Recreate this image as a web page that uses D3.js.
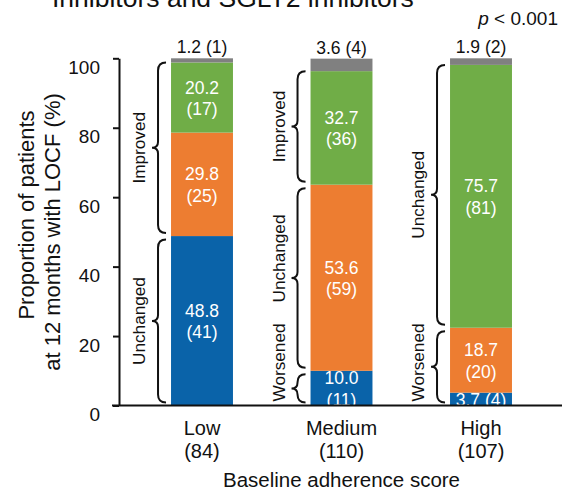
<!DOCTYPE html>
<html>
<head>
<meta charset="utf-8">
<script src="https://cdn.jsdelivr.net/npm/d3@7"></script>
<style>
  body { margin: 0; background: #fff; }
  svg { display: block; }
  text { font-family: "Liberation Sans", Arial, Helvetica, sans-serif; fill: #111; }
</style>
</head>
<body>
<svg id="chart" width="566" height="494"></svg>
<script>
// Baseline adherence score groups and their sizes
const baselineCategories = ["Low", "Medium", "High"];
const baselineCounts = [84, 110, 107];

// Adherence score at 12 months (LOCF), stacked bottom-up
const outcomeKeys = ["Low", "Medium", "High", "Missing"];
const pctLow12 = [48.8, 10.0, 3.7];
const pctMedium12 = [29.8, 53.6, 18.7];
const pctHigh12 = [20.2, 32.7, 75.7];
const pctMissing = [1.2, 3.6, 1.9];
const nLow12 = [41, 11, 4];
const nMedium12 = [25, 59, 20];
const nHigh12 = [17, 36, 81];
const nMissing = [1, 4, 2];

const yTicks = [0, 20, 40, 60, 80, 100];
const changeLabels = ["Worsened", "Unchanged", "Improved"];
const colors = ["#0a63a9", "#ed7d31", "#70ad47", "#808080"];

const pctByKey = [pctLow12, pctMedium12, pctHigh12, pctMissing];
const nByKey = [nLow12, nMedium12, nHigh12, nMissing];

const rows = baselineCategories.map((cat, i) => {
  const r = { cat };
  outcomeKeys.forEach((k, j) => { r[k] = pctByKey[j][i]; });
  return r;
});
const layers = d3.stack().keys(outcomeKeys)(rows);

const svg = d3.select("#chart");

const x = d3.scaleBand()
  .domain(baselineCategories)
  .range([132.25, 550.75])
  .paddingInner(0.556)
  .paddingOuter(0.278);
const y = d3.scaleLinear().domain([0, 100]).range([405.5, 58.3]);

// Title (second line of the panel heading)
svg.append("text")
  .attr("x", 52).attr("y", 7)
  .style("font-size", "26.5px")
  .text("Inhibitors and SGLT2 inhibitors");

// p-value
const pText = svg.append("text")
  .attr("x", 558).attr("y", 25)
  .attr("text-anchor", "end")
  .style("font-size", "19px");
pText.append("tspan").style("font-style", "italic").text("p");
pText.append("tspan").text(" < 0.001");

// Clip for in-bar labels so they stop at the baseline
svg.append("defs").append("clipPath").attr("id", "plotClip")
  .append("rect").attr("x", 0).attr("y", 0).attr("width", 566).attr("height", y(0));

// Stacked bars
svg.append("g").selectAll("g")
  .data(layers)
  .join("g")
  .attr("fill", (d, i) => colors[i])
  .selectAll("rect")
  .data(d => d)
  .join("rect")
  .attr("x", d => x(d.data.cat))
  .attr("y", d => y(d[1]))
  .attr("width", x.bandwidth())
  .attr("height", d => y(d[0]) - y(d[1]));

// Segment labels: percentage and count
const labelG = svg.append("g").attr("clip-path", "url(#plotClip)");
layers.forEach((layer, j) => {
  layer.forEach((d, i) => {
    const cx = x(d.data.cat) + x.bandwidth() / 2;
    const v = pctByKey[j][i].toFixed(1);
    const n = nByKey[j][i];
    if (j === 3) {
      svg.append("text")
        .attr("x", cx).attr("y", y(d[1]) - 5)
        .attr("text-anchor", "middle")
        .style("font-size", "17.5px")
        .text(`${v} (${n})`);
      return;
    }
    const top = y(d[1]), bot = y(d[0]);
    const c = (top + bot) / 2;
    if (bot - top >= 30) {
      labelG.append("text")
        .attr("x", cx).attr("y", c - 4)
        .attr("text-anchor", "middle")
        .style("font-size", "17.5px").style("fill", "#fff")
        .text(v);
      labelG.append("text")
        .attr("x", cx).attr("y", c + 17.5)
        .attr("text-anchor", "middle")
        .style("font-size", "17.5px").style("fill", "#fff")
        .text(`(${n})`);
    } else {
      labelG.append("text")
        .attr("x", cx).attr("y", c + 7)
        .attr("text-anchor", "middle")
        .style("font-size", "17.5px").style("fill", "#fff")
        .text(`${v} (${n})`);
    }
  });
});

// Curly braces grouping the change categories
function bracePath(xv, y0, y1) {
  const e = 8, t = 6, ym = (y0 + y1) / 2;
  return `M${xv + e},${y0} Q${xv},${y0} ${xv},${y0 + e}` +
    ` L${xv},${ym - t} Q${xv},${ym} ${xv - t},${ym}` +
    ` Q${xv},${ym} ${xv},${ym + t}` +
    ` L${xv},${y1 - e} Q${xv},${y1} ${xv + e},${y1}`;
}
const braceG = svg.append("g");
baselineCategories.forEach((cat, i) => {
  const left = x(cat);
  const groups = [
    { label: changeLabels[0], keys: [0, 1, 2].filter(j => j < i) },
    { label: changeLabels[1], keys: [i] },
    { label: changeLabels[2], keys: [0, 1, 2].filter(j => j > i) }
  ].filter(g => g.keys.length);
  // bottom-up: keep each label above the baseline and clear of the one below
  let limit = y(0) - 4;
  groups.forEach(g => {
    const lo = d3.sum(d3.range(0, g.keys[0]), j => pctByKey[j][i]);
    const hi = lo + d3.sum(g.keys, j => pctByKey[j][i]);
    const isTop = g.keys[g.keys.length - 1] === 2;
    const yTop = y(hi) + (isTop ? 0 : 3.5);
    const yBot = y(lo) - 3;
    braceG.append("path")
      .attr("d", bracePath(left - 13, yTop, yBot))
      .attr("fill", "none").attr("stroke", "#111").attr("stroke-width", 2);
    const t = braceG.append("text")
      .attr("text-anchor", "middle")
      .style("font-size", "17.2px")
      .text(g.label);
    const half = t.node().getComputedTextLength() / 2;
    let cy = (yTop + yBot) / 2;
    if (cy + half > limit) cy = limit - half;
    limit = cy - half - 21;
    t.attr("transform", `translate(${left - 26},${cy}) rotate(-90)`);
  });
});

// Y axis
const yAxis = svg.append("g")
  .attr("transform", "translate(119,0)")
  .call(d3.axisLeft(y).tickValues(yTicks).tickSize(6).tickSizeOuter(0).tickPadding(13));
yAxis.select(".domain").attr("stroke", "#111").attr("stroke-width", 2);
yAxis.selectAll(".tick line").attr("stroke", "#111").attr("stroke-width", 2);
yAxis.selectAll(".tick text")
  .attr("dy", 15)
  .style("font-size", "19px")
  .style("font-family", "\"Liberation Sans\", Arial, sans-serif")
  .attr("fill", "#111");

// X baseline
svg.append("line")
  .attr("x1", 112).attr("x2", 562)
  .attr("y1", y(0)).attr("y2", y(0))
  .attr("stroke", "#111").attr("stroke-width", 2);

// Category labels with group sizes
baselineCategories.forEach((cat, i) => {
  const cx = x(cat) + x.bandwidth() / 2;
  svg.append("text").attr("x", cx).attr("y", 435)
    .attr("text-anchor", "middle").style("font-size", "20px").text(cat);
  svg.append("text").attr("x", cx).attr("y", 458)
    .attr("text-anchor", "middle").style("font-size", "20px").text(`(${baselineCounts[i]})`);
});

// Axis titles
svg.append("text").attr("x", 341.5).attr("y", 487)
  .attr("text-anchor", "middle").style("font-size", "20.5px")
  .text("Baseline adherence score");
svg.append("text")
  .attr("transform", "translate(34,215) rotate(-90)")
  .attr("text-anchor", "middle").style("font-size", "22px")
  .text("Proportion of patients");
svg.append("text")
  .attr("transform", "translate(60,232) rotate(-90)")
  .attr("text-anchor", "middle").style("font-size", "22px")
  .text("at 12 months with LOCF (%)");
</script>
</body>
</html>
